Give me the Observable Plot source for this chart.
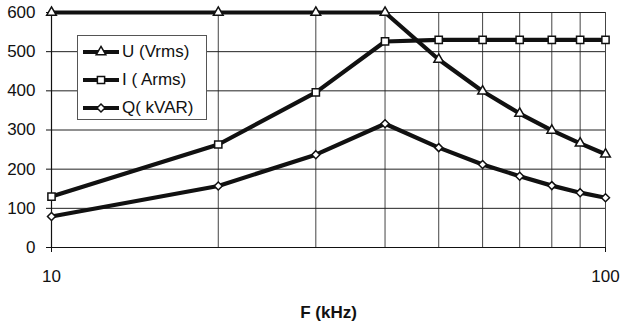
<!DOCTYPE html>
<html><head><meta charset="utf-8">
<script src="https://cdn.jsdelivr.net/npm/d3@7"></script>
<script src="https://cdn.jsdelivr.net/npm/@observablehq/plot@0.6"></script>
<style>
body{margin:0;background:#fff;font-family:"Liberation Sans",Arial,sans-serif;}
#wrap{position:relative;width:621px;height:325px;}
#legend{position:absolute;left:77px;top:35px;width:128px;height:83px;border:1px solid #555;background:#fff;font-size:17px;color:#111;}
#legend .row{position:absolute;left:0;height:20px;display:flex;align-items:center;}
#legend svg{display:block;}
</style></head>
<body><div id="wrap"><div id="legend"></div></div>
<script>
const freqs = [10, 20, 30, 40, 50, 60, 70, 80, 90, 100];
const uVrms = [600, 600, 600, 600, 480, 399, 342, 299, 266, 238];
const iArms = [130, 263, 396, 526, 530, 530, 530, 530, 530, 530];
const qKvar = [79, 157, 237, 316, 255, 212, 182, 158, 140, 127];
const seriesNames = ["U (Vrms)", "I ( Arms)", "Q( kVAR)"];
const seriesSymbols = ["triangle", "square2", "diamond2"];
const symbolRadii = [3.6, 4.6, 3.6];
const xGridTicks = [10, 20, 30, 40, 50, 60, 70, 80, 90, 100];
const xLabelTicks = [10, 100];
const yTicks = [0, 100, 200, 300, 400, 500, 600];
const xTitle = "F (kHz)";

const seriesValues = [uVrms, iArms, qKvar];
const data = [];
seriesValues.forEach((vals, s) => vals.forEach((v, i) => data.push({f: freqs[i], v, s: seriesNames[s], r: symbolRadii[s]})));

const chart = Plot.plot({
  width: 621, height: 325,
  marginLeft: 51, marginRight: 16, marginTop: 12, marginBottom: 78,
  style: {fontFamily: "'Liberation Sans', Arial, sans-serif", fontSize: "17px", color: "#111", background: "#fff"},
  x: {type: "log", domain: [10, 100]},
  y: {domain: [0, 600]},
  r: {type: "identity"},
  symbol: {domain: seriesNames, range: seriesSymbols},
  marks: [
    Plot.ruleX(xGridTicks, {stroke: "#444", strokeWidth: 1}),
    Plot.ruleY(yTicks.filter(d => d > 0), {stroke: "#222", strokeWidth: 1}),
    Plot.ruleX([10], {stroke: "#111", strokeWidth: 1.2}),
    Plot.ruleY([0], {stroke: "#111", strokeWidth: 1.2}),
    Plot.axisY({ticks: yTicks, tickSize: 5, tickPadding: 11, label: null, tickFormat: d => String(d)}),
    Plot.axisX({ticks: xLabelTicks, tickSize: 5, tickPadding: 17, label: null, tickFormat: d => String(d)}),
    Plot.line(data, {x: "f", y: "v", z: "s", stroke: "#111", strokeWidth: 4.2}),
    Plot.dot(data, {x: "f", y: "v", symbol: "s", r: "r", fill: "white", stroke: "#111", strokeWidth: 1.5}),
    Plot.text([xTitle], {frameAnchor: "bottom", dy: 70, text: d => d, fontWeight: "bold", fontSize: 17, fill: "#111"})
  ]
});
document.getElementById("wrap").prepend(chart);

// legend
const legend = document.getElementById("legend");
const d3Sym = {triangle: d3.symbolTriangle, square2: d3.symbolSquare2, diamond2: d3.symbolDiamond2};
seriesNames.forEach((name, i) => {
  const row = document.createElement("div");
  row.className = "row";
  row.style.top = (6 + i * 28) + "px";
  const sw = d3.create("svg").attr("width", 44).attr("height", 20);
  sw.append("line").attr("x1", 5).attr("x2", 41).attr("y1", 10).attr("y2", 10).attr("stroke", "#111").attr("stroke-width", 4.2);
  sw.append("path").attr("transform", "translate(23,10)")
    .attr("d", d3.symbol(d3Sym[seriesSymbols[i]], Math.PI * symbolRadii[i] * symbolRadii[i])())
    .attr("fill", "white").attr("stroke", "#111").attr("stroke-width", 1.5);
  row.appendChild(sw.node());
  const t = document.createElement("span");
  t.textContent = name;
  row.appendChild(t);
  legend.appendChild(row);
});
</script>
</body></html>
